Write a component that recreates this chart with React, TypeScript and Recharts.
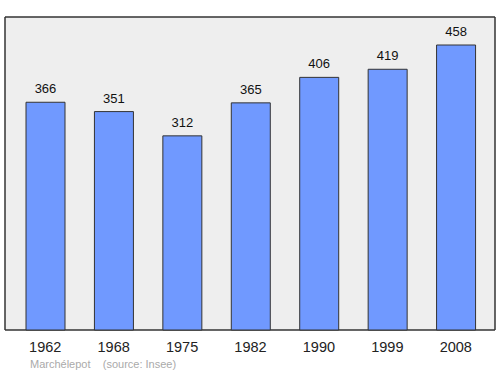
import { BarChart, Bar, XAxis, YAxis, CartesianGrid, LabelList } from "recharts";

const years = ["1962", "1968", "1975", "1982", "1990", "1999", "2008"];
const population = [366, 351, 312, 365, 406, 419, 458];

const data = years.map((year, i) => ({ year, population: population[i] }));

const FONT = "'Liberation Sans', Arial, sans-serif";

// draws the frame on the plot edges
const edgesY = ({ offset }: any) => [offset.top, offset.top + offset.height];
const edgesX = ({ offset }: any) => [offset.left, offset.left + offset.width];

export default function App() {
  return (
    <div
      style={{
        position: "absolute",
        left: 0,
        top: 0,
        width: 500,
        height: 374,
        background: "#fff",
        fontFamily: FONT,
      }}
    >
      <BarChart
        width={500}
        height={374}
        data={data}
        margin={{ top: 17, right: 5, bottom: 14, left: 5 }}
      >
        <CartesianGrid
          fill="#eeeeee"
          stroke="#333"
          strokeWidth={1.5}
          horizontalCoordinatesGenerator={edgesY}
          verticalCoordinatesGenerator={edgesX}
        />
        <XAxis
          dataKey="year"
          axisLine={false}
          tickLine={false}
          height={30}
          tickMargin={6}
          padding={{ left: 6, right: 5 }}
          tick={{ fill: "#222", fontSize: 14.5, fontFamily: FONT }}
        />
        <YAxis hide domain={[0, 503]} />
        <Bar
          dataKey="population"
          barSize={39}
          fill="#7099ff"
          stroke="#333"
          strokeWidth={1}
          isAnimationActive={false}
        >
          <LabelList
            dataKey="population"
            position="top"
            offset={9}
            style={{ fill: "#111", fontSize: 13, fontFamily: FONT }}
          />
        </Bar>
      </BarChart>
      <div
        style={{
          position: "absolute",
          left: 30,
          top: 358,
          fontSize: 11,
          color: "#aaa",
          whiteSpace: "pre",
        }}
      >
        {"Marchélepot    (source: Insee)"}
      </div>
    </div>
  );
}
